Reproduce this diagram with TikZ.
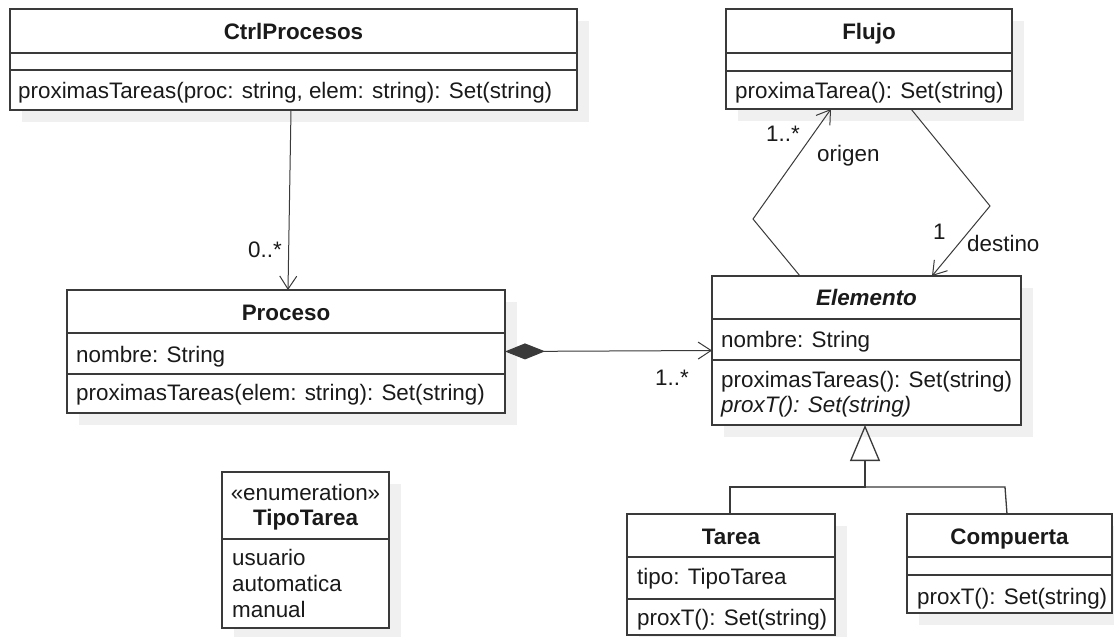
\documentclass[tikz,border=0pt]{standalone}
\usepackage{fontspec}
\setmainfont{Liberation Sans}
\usetikzlibrary{arrows.meta,shadows,calc}
\definecolor{ink}{HTML}{1A1A1A}
\definecolor{edge}{HTML}{3A3A3A}
\definecolor{shade}{HTML}{F0F0F0}
\begin{document}
\begin{tikzpicture}[x=1pt,y=-1pt,
  font=\fontsize{22.4}{25.5}\selectfont,
  cls/.style={draw=edge, line width=1.4pt, fill=white, inner sep=0pt, outer sep=0pt,
    anchor=north west,
    general shadow={fill=shade, draw=none, shadow xshift=12pt, shadow yshift=-12pt}},
  sep/.style={draw=edge, line width=1.4pt},
  lbl/.style={text=ink, inner sep=0pt, anchor=base west},
  ttl/.style={text=ink, inner sep=0pt, anchor=base, font=\fontsize{22.4}{25.5}\selectfont\bfseries},
  link/.style={draw=edge, line width=1pt},
  navarrow/.style={-{Straight Barb[length=13pt,width=17pt]}},
]
% canvas
\fill[white] (0,0) rectangle (1114,637);
\useasboundingbox (0,0) rectangle (1114,637);

% ---- class boxes ----
\node[cls, minimum width=567pt, minimum height=101pt] (ctrl)  at (10,9)   {};
\node[cls, minimum width=286pt, minimum height=100pt] (flujo) at (726,9)  {};
\node[cls, minimum width=438pt, minimum height=123pt] (proc)  at (67,290) {};
\node[cls, minimum width=309pt, minimum height=149pt] (el)    at (712,276){};
\node[cls, minimum width=208pt, minimum height=121pt] (tarea) at (627,514){};
\node[cls, minimum width=205pt, minimum height=99pt]  (comp)  at (907,514){};
\node[cls, minimum width=167pt, minimum height=156pt] (tipo)  at (222,472){};

% compartment dividers
\draw[sep] ($(ctrl.north west)+(0,44)$) -- ($(ctrl.north east)+(0,44)$);
\draw[sep] ($(ctrl.north west)+(0,61)$) -- ($(ctrl.north east)+(0,61)$);
\draw[sep] ($(flujo.north west)+(0,44)$) -- ($(flujo.north east)+(0,44)$);
\draw[sep] ($(flujo.north west)+(0,62)$) -- ($(flujo.north east)+(0,62)$);
\draw[sep] ($(proc.north west)+(0,43)$) -- ($(proc.north east)+(0,43)$);
\draw[sep] ($(proc.north west)+(0,84)$) -- ($(proc.north east)+(0,84)$);
\draw[sep] ($(el.north west)+(0,43)$) -- ($(el.north east)+(0,43)$);
\draw[sep] ($(el.north west)+(0,84)$) -- ($(el.north east)+(0,84)$);
\draw[sep] ($(tarea.north west)+(0,43)$) -- ($(tarea.north east)+(0,43)$);
\draw[sep] ($(tarea.north west)+(0,85)$) -- ($(tarea.north east)+(0,85)$);
\draw[sep] ($(comp.north west)+(0,43)$) -- ($(comp.north east)+(0,43)$);
\draw[sep] ($(comp.north west)+(0,61)$) -- ($(comp.north east)+(0,61)$);
\draw[sep] ($(tipo.north west)+(0,67)$) -- ($(tipo.north east)+(0,67)$);

% ---- class texts ----
\node[ttl] (ctrlT) at (293.5,39.5) {CtrlProcesos};
\node[lbl] (ctrlM) at (18,98.5) {proximasTareas(proc: string, elem: string): Set(string)};

\node[ttl] (flujoT) at (869,39.5) {Flujo};
\node[lbl] (flujoM) at (735,98.5) {proximaTarea(): Set(string)};

\node[ttl] (procT) at (286,320.5) {Proceso};
\node[lbl] (procA) at (76,362) {nombre: String};
\node[lbl] (procM) at (76,400.5) {proximasTareas(elem: string): Set(string)};

\node[ttl, font=\fontsize{22.4}{25.5}\selectfont\bfseries\itshape] (elT) at (866.5,305.5) {Elemento};
\node[lbl] (elA)  at (721,347.5) {nombre: String};
\node[lbl] (elM1) at (721,387.5) {proximasTareas(): Set(string)};
\node[lbl, font=\fontsize{22.4}{25.5}\selectfont\itshape] (elM2) at (721,412.5) {proxT(): Set(string)};

\node[ttl] (tareaT) at (731,544.5) {Tarea};
\node[lbl] (tareaA) at (637,584.5) {tipo: TipoTarea};
\node[lbl] (tareaM) at (637,625.5) {proxT(): Set(string)};

\node[ttl] (compT) at (1009.5,544.5) {Compuerta};
\node[lbl] (compM) at (917,604.5) {proxT(): Set(string)};

\node[lbl, anchor=base] (tipoS) at (305.5,500.5) {«enumeration»};
\node[ttl] (tipoT) at (305.5,525.5) {TipoTarea};
\node[lbl] (tipo1) at (232,565.5) {usuario};
\node[lbl] (tipo2) at (232,591.5) {automatica};
\node[lbl] (tipo3) at (232,617.5) {manual};

% ---- associations ----
\draw[link, navarrow] ($(ctrl.south west)+(281,0)$) -- ($(proc.north west)+(221,0)$);
\node[lbl, anchor=base east] (mulCP) at (282,257) {0..*};

\draw[link, {Diamond[length=40pt,width=16pt]}-{Straight Barb[length=13pt,width=17pt]}]
  (proc.east) -- (el.west);
\node[lbl] (mulEl) at (655,385) {1..*};

\coordinate (bendL) at (753,219);
\draw[link, navarrow] ($(el.north west)+(88,0)$) -- (bendL) -- ($(flujo.south west)+(105,0)$);
\node[lbl, anchor=base east] (mulOr) at (800,141) {1..*};
\node[lbl] (roleOr) at (817,161) {origen};

\coordinate (bendR) at (990,206);
\draw[link, navarrow] ($(flujo.south west)+(185,0)$) -- (bendR) -- ($(el.north west)+(220,0)$);
\node[lbl] (mulDe) at (933,239) {1};
\node[lbl] (roleDe) at (967,251) {destino};

% ---- generalization ----
\coordinate (joint) at (865,487);
\coordinate (elbow) at (1005,487);
\draw[link, line width=1.3pt, -{Triangle[open,length=36pt,width=30pt]}]
  ($(tarea.north west)+(103,0)$) |- (joint) -- ($(el.south west)+(153,0)$);
\draw[link, line width=1.3pt] (joint) -- (elbow) -- ($(comp.north west)+(100,0)$);
\draw[link, line width=2.6pt] (joint) -- ($(el.south west)+(153,37)$);
\end{tikzpicture}
\end{document}
